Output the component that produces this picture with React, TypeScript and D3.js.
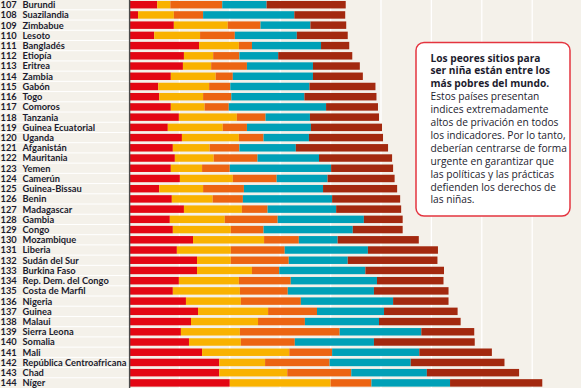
import React from "react";
import * as d3 from "d3";

const ranks = [107,108,109,110,111,112,113,114,115,116,117,118,119,120,121,122,123,124,125,126,127,128,129,130,131,132,133,134,135,136,137,138,139,140,141,142,143,144];
const countries = ["Burundi","Suazilandia","Zimbabue","Lesoto","Bangladés","Etiopía","Eritrea","Zambia","Gabón","Togo","Comoros","Tanzania","Guinea Ecuatorial","Uganda","Afganistán","Mauritania","Yemen","Camerún","Guinea-Bissau","Benin","Madagascar","Gambia","Congo","Mozambique","Liberia","Sudán del Sur","Burkina Faso","Rep. Dem. del Congo","Costa de Marfil","Nigeria","Guinea","Malaui","Sierra Leona","Somalia","Mali","República Centroafricana","Chad","Níger"];

const matrimonioInfantil = [5.6,1.8,8.9,5.0,13.9,10.9,10.7,8.3,5.8,6.0,8.3,9.9,7.7,10.5,8.7,9.1,8.3,10.1,6.0,8.5,10.9,8.1,8.7,12.7,9.5,13.5,13.5,9.9,8.7,11.3,13.7,12.3,10.3,11.9,14.5,17.9,17.9,20.0];
const fertilidadAdolescente = [2.6,7.1,10.7,9.1,7.9,5.8,5.6,8.9,10.1,8.7,6.7,11.5,10.9,11.3,7.3,7.7,6.2,10.5,8.7,8.1,11.5,10.9,11.5,14.1,10.7,6.7,10.9,11.9,13.3,10.9,13.9,13.3,11.7,10.3,17.3,9.1,13.5,20.0];
const mortalidadMaterna = [10.3,5.8,6.5,6.9,2.6,5.2,7.1,3.4,4.2,5.6,4.8,5.7,4.8,4.9,5.9,8.7,5.5,8.7,8.1,6.0,5.1,10.5,6.5,6.9,10.7,11.5,5.4,10.3,9.5,11.9,9.7,9.3,19.8,10.7,8.5,12.8,12.7,8.1];
const escolarizacion = [8.8,18.1,9.9,12.3,13.7,7.7,13.1,15.9,15.7,14.5,19.3,8.8,12.7,9.0,11.2,12.2,20.1,10.1,15.7,17.7,13.6,17.1,17.7,7.7,16.5,11.7,17.1,17.1,17.1,18.3,13.3,14.7,16.2,15.7,17.3,16.1,15.0,15.6];
const parlamento = [15.7,10.1,7.1,10.1,5.6,14.7,9.3,9.9,13.1,14.3,10.3,13.7,14.1,14.7,18.3,14.5,12.3,13.3,14.7,13.5,12.9,7.7,9.9,16.1,13.9,17.8,15.6,13.2,14.8,11.0,14.6,16.2,10.5,20.0,14.4,18.6,18.3,18.3];

const seriesKeys = ["matrimonio", "fertilidad", "mortalidad", "escolarizacion", "parlamento"];
const seriesColors = ["#e30613", "#f9b200", "#ec6412", "#00a0b7", "#a3290f"];
const gridTicks = [10, 20, 30, 40, 50, 60, 70, 80];

const titleLines = ["Los peores sitios para", "ser niña están entre los", "más pobres del mundo."];
const bodyLines = ["Estos países presentan", "indices extremadamente", "altos de privación en todos", "los indicadores. Por lo tanto,", "deberían centrarse de forma", "urgente en garantizar que", "las políticas y las prácticas", "defienden los derechos de", "las niñas."];

const W = 581;
const H = 388;

export default function App() {
  const rows = ranks.map((r, i) => ({
    rank: r,
    country: countries[i],
    matrimonio: matrimonioInfantil[i],
    fertilidad: fertilidadAdolescente[i],
    mortalidad: mortalidadMaterna[i],
    escolarizacion: escolarizacion[i],
    parlamento: parlamento[i],
  }));
  const stacked = d3.stack<any>().keys(seriesKeys)(rows);
  const x = d3.scaleLinear().domain([0, 100]).range([129, 633]);
  const y = d3.scaleBand<number>().domain(ranks).range([-0.4, 388]).paddingInner(0.27).paddingOuter(0.135);
  const step = y.step();
  const bw = y.bandwidth();
  const textColor = "#1c1c2e";

  return (
    <svg width={W} height={H} style={{ position: "absolute", left: 0, top: 0, display: "block" }} fontFamily="Lato, 'Open Sans', sans-serif">
      <rect x={0} y={0} width={W} height={H} fill="#f4f1ea" />
      {gridTicks.map((t) => (
        <line key={t} x1={x(t)} x2={x(t)} y1={0} y2={H} stroke="#ffffff" strokeWidth={1.3} />
      ))}
      {ranks.slice(0, -1).map((r) => {
        const yy = (y(r) as number) + bw + (step - bw) / 2;
        return <line key={"s" + r} x1={0} x2={129} y1={yy} y2={yy} stroke="#ffffff" strokeWidth={1} />;
      })}
      {stacked.map((s, si) => (
        <g key={s.key} fill={seriesColors[si]}>
          {s.map((d: any, i: number) => (
            <rect key={i} x={x(d[0])} y={y(ranks[i])} width={Math.max(0, x(d[1]) - x(d[0]))} height={bw} />
          ))}
        </g>
      ))}
      <line x1={129.6} x2={129.6} y1={0} y2={H} stroke="#4a4a4a" strokeWidth={1.4} />
      {rows.map((r) => {
        const cy = (y(r.rank) as number) + bw / 2 + 3.4;
        return (
          <g key={"l" + r.rank} fontWeight={700} fontSize={9.3} fill={textColor}>
            <text x={0.5} y={cy}>{r.rank}</text>
            <text x={22.5} y={cy}>{r.country}</text>
          </g>
        );
      })}
      <rect x={416} y={42.5} width={154} height={173.5} rx={8} ry={8} fill="#ffffff" stroke="#e4343f" strokeWidth={1.5} />
      <g fill={textColor} fontSize={10.2} fontFamily="'Open Sans', sans-serif">
        {titleLines.map((t, i) => (
          <text key={"t" + i} x={430.5} y={61.5 + i * 12.9} fontWeight={700}>{t}</text>
        ))}
        {bodyLines.map((t, i) => (
          <text key={"b" + i} x={430.5} y={61.5 + (i + 3) * 12.9}>{t}</text>
        ))}
      </g>
    </svg>
  );
}
